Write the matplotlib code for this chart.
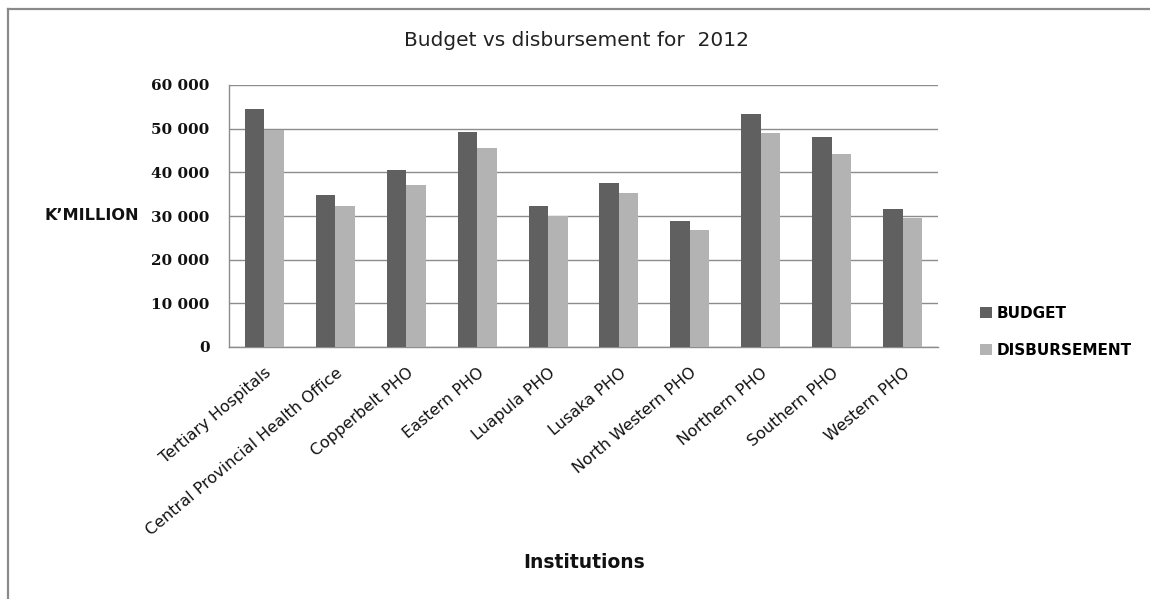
import matplotlib
matplotlib.use("Agg")
import matplotlib.pyplot as plt
import numpy as np
from matplotlib.lines import Line2D

categories = ["Tertiary Hospitals", "Central Provincial Health Office", "Copperbelt PHO",
              "Eastern PHO", "Luapula PHO", "Lusaka PHO", "North Western PHO",
              "Northern PHO", "Southern PHO", "Western PHO"]
budget = [54400, 34700, 40500, 49300, 32400, 37600, 28900, 53400, 48100, 31600]
disbursement = [49600, 32200, 37200, 45500, 30000, 35200, 26800, 49100, 44300, 29600]
yticks = [0, 10000, 20000, 30000, 40000, 50000, 60000]
ytick_labels = ["0", "10 000", "20 000", "30 000", "40 000", "50 000", "60 000"]

W, H = 1150, 599
fig = plt.figure(figsize=(W / 100, H / 100), dpi=100)
fig.patch.set_facecolor("white")

ax = fig.add_axes([229 / W, 1 - 347 / H, 709 / W, 262 / H])
x = np.arange(len(categories))
bw = 0.275
c_b = "#606060"
c_d = "#b3b3b3"
ax.bar(x - bw / 2, budget, bw, color=c_b, edgecolor="none", zorder=3, label="BUDGET")
ax.bar(x + bw / 2, disbursement, bw, color=c_d, edgecolor="none", zorder=3, label="DISBURSEMENT")

ax.set_xlim(-0.5, len(categories) - 0.5)
ax.set_ylim(0, 60000)
ax.set_yticks(yticks)
ax.set_yticklabels(ytick_labels, fontfamily="DejaVu Serif", fontweight="bold", fontsize=11,
                   color="#111111")
ax.yaxis.grid(True, color="#8c8c8c", linewidth=1.0, zorder=0)
ax.set_axisbelow(True)
ax.tick_params(axis="both", length=0)
ax.tick_params(axis="y", pad=14)
ax.set_xticks(x)
ax.set_xticklabels(categories, rotation=40, ha="right", rotation_mode="anchor",
                   fontfamily="DejaVu Sans", fontsize=11.5, color="#111111")
ax.tick_params(axis="x", pad=13)
for s in ["top", "right"]:
    ax.spines[s].set_visible(False)
for s in ["left", "bottom"]:
    ax.spines[s].set_color("#8c8c8c")
    ax.spines[s].set_linewidth(1.0)

fig.text(577 / W, 1 - 41 / H, "Budget vs disbursement for  2012", ha="center", va="center",
         fontfamily="DejaVu Sans", fontsize=14.5, color="#222222")
fig.text(139 / W, 1 - 216 / H, "K\u2019MILLION", ha="right", va="center",
         fontfamily="DejaVu Sans", fontweight="bold", fontsize=11.6, color="#111111")
fig.text(584 / W, 1 - 563 / H, "Institutions", ha="center", va="center",
         fontfamily="DejaVu Sans", fontweight="bold", fontsize=13.5, color="#111111")

leg = fig.legend(loc="upper left", bbox_to_anchor=(966 / W, 1 - 292 / H),
                 frameon=False, prop={"family": "DejaVu Sans", "weight": "bold", "size": 11},
                 handlelength=0.78, handleheight=0.78, handletextpad=0.33, labelspacing=1.45)

# outer border
fig.add_artist(Line2D([8 / W, 1], [1 - 9 / H, 1 - 9 / H], transform=fig.transFigure,
                      color="#8a8a8a", linewidth=1.6))
fig.add_artist(Line2D([8 / W, 8 / W], [0, 1 - 9 / H], transform=fig.transFigure,
                      color="#8a8a8a", linewidth=1.6))

fig.savefig("out.png", dpi=100, facecolor="white")
